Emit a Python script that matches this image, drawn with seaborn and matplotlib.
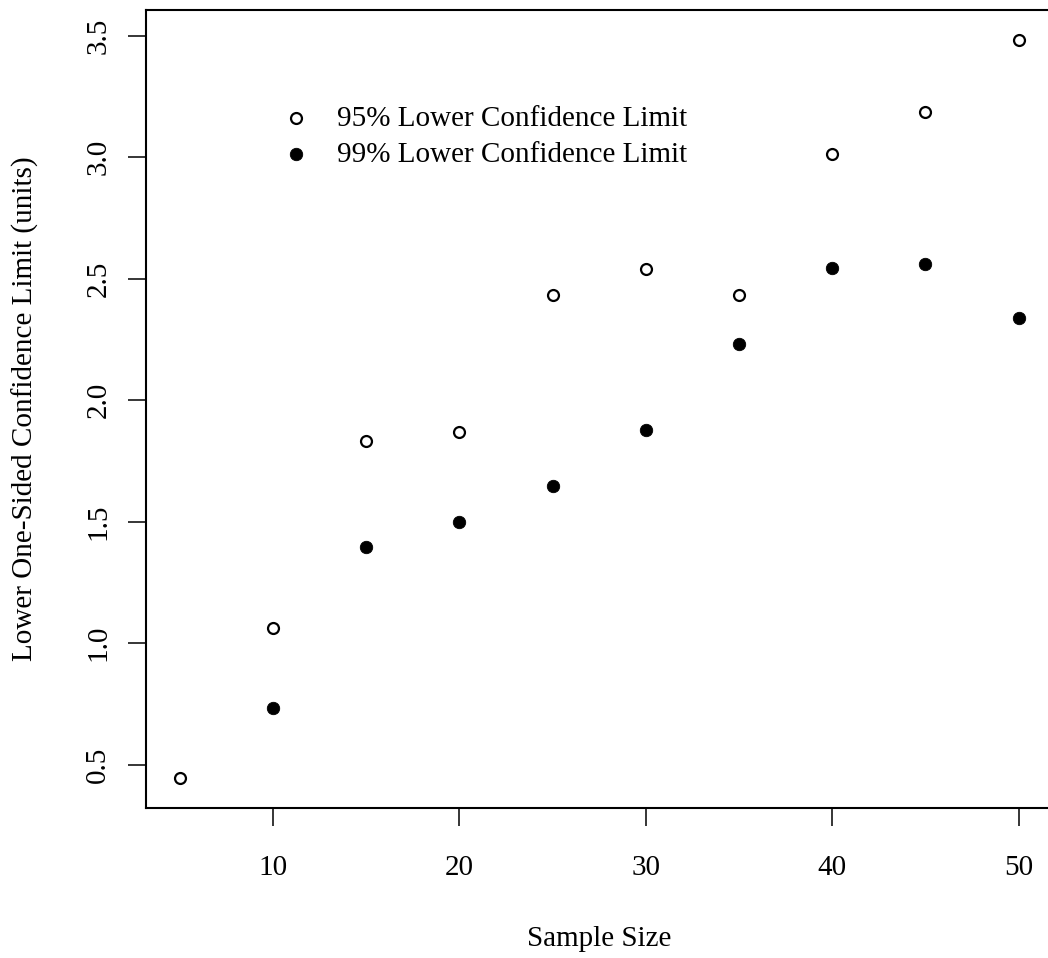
import matplotlib
matplotlib.use("Agg")
import matplotlib.pyplot as plt
import seaborn as sns
import pandas as pd

sample_size = [5, 10, 15, 20, 25, 30, 35, 40, 45, 50]
lcl95 = [0.445, 1.062, 1.832, 1.867, 2.431, 2.538, 2.431, 3.012, 3.187, 3.484]
lcl99_n = [10, 15, 20, 25, 30, 35, 40, 45, 50]
lcl99 = [0.731, 1.397, 1.500, 1.648, 1.879, 2.229, 2.543, 2.560, 2.337]
x_ticks = [10, 20, 30, 40, 50]
y_ticks = [0.5, 1.0, 1.5, 2.0, 2.5, 3.0, 3.5]

df95 = pd.DataFrame({"n": sample_size, "lcl": lcl95})
df99 = pd.DataFrame({"n": lcl99_n, "lcl": lcl99})

sns.set_style("white")
plt.rcParams["font.family"] = ["Liberation Serif", "DejaVu Serif"]
plt.rcParams["text.color"] = "black"
plt.rcParams["axes.labelcolor"] = "black"
plt.rcParams["xtick.color"] = "black"
plt.rcParams["ytick.color"] = "black"

W, H = 1048, 958
fig = plt.figure(figsize=(W / 100, H / 100), dpi=100)
left, right, top, bottom = 146, 1052.3, 10, 807.5
ax = fig.add_axes([left / W, 1 - bottom / H, (right - left) / W, (bottom - top) / H])

sns.scatterplot(data=df95, x="n", y="lcl", ax=ax, marker="o", s=62,
                facecolor="white", edgecolor="black", linewidth=1.6,
                label="95% Lower Confidence Limit")
sns.scatterplot(data=df99, x="n", y="lcl", ax=ax, marker="o", s=80,
                color="black", edgecolor="black", linewidth=0.6,
                label="99% Lower Confidence Limit")

allx = sample_size + lcl99_n
ally = lcl95 + lcl99
xr = max(allx) - min(allx)
yr = max(ally) - min(ally)
ax.set_xlim(min(allx) - 0.04 * xr, max(allx) + 0.04 * xr)
ax.set_ylim(min(ally) - 0.04 * yr, max(ally) + 0.04 * yr)

ax.set_xticks(x_ticks)
ax.set_xticklabels([str(t) for t in x_ticks])
ax.set_yticks(y_ticks)
ax.set_yticklabels([f"{t:.1f}" for t in y_ticks], rotation=90, va="center")
ax.tick_params(axis="both", which="both", direction="out", length=13,
               width=1.1, color="black", labelsize=21, labelcolor="black",
               bottom=True, left=True)
ax.tick_params(axis="x", pad=21.5)
ax.tick_params(axis="y", pad=12)

for sp in ax.spines.values():
    sp.set_visible(True)
    sp.set_color("black")
    sp.set_linewidth(1.5)

ax.set_xlabel("Sample Size", fontsize=21, labelpad=32, color="black")
ax.set_ylabel("Lower One-Sided Confidence Limit (units)", fontsize=21,
              labelpad=33, color="black")

leg = ax.legend(loc="upper left", bbox_to_anchor=(0.137, 0.895), frameon=False,
                fontsize=21, handletextpad=0.9, labelspacing=0.32,
                borderaxespad=0, handlelength=1.0)
for t in leg.get_texts():
    t.set_color("black")

fig.savefig("out.png", dpi=100)
